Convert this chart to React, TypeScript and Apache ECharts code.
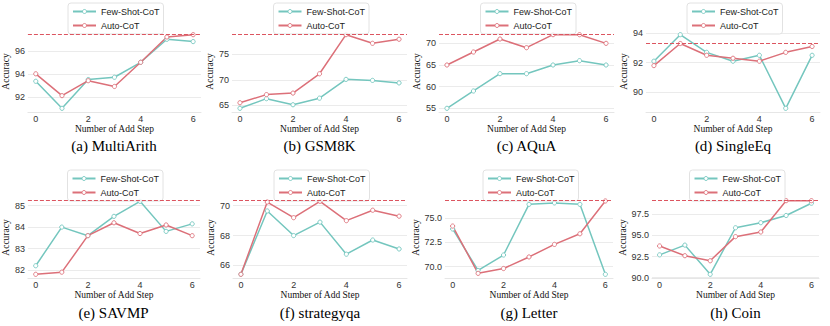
import React, { useEffect, useRef } from "react";
import * as echarts from "echarts";

// ---------- data ----------
const steps = [0, 1, 2, 3, 4, 5, 6];
const xTickValues = [0, 2, 4, 6];
const seriesNames = ["Few-Shot-CoT", "Auto-CoT"];

const multiArithFew = [93.35, 91.0, 93.5, 93.7, 95.0, 97.0, 96.8];
const multiArithAuto = [94.0, 92.1, 93.4, 92.9, 95.0, 97.2, 97.4];
const multiArithRef = 97.4;
const multiArithTicks = [92, 94, 96];

const gsm8kFew = [64.4, 66.3, 65.1, 66.4, 70.1, 69.9, 69.4];
const gsm8kAuto = [65.5, 67.1, 67.4, 71.2, 78.9, 77.2, 78.0];
const gsm8kRef = 78.9;
const gsm8kTicks = [65, 70, 75];

const aquaFew = [55.0, 59.0, 63.0, 63.0, 65.0, 66.0, 65.0];
const aquaAuto = [65.0, 68.0, 71.0, 69.0, 72.0, 72.0, 70.0];
const aquaRef = 72.0;
const aquaTicks = [55, 60, 65, 70];

const singleEqFew = [92.1, 93.9, 92.7, 92.1, 92.5, 88.9, 92.5];
const singleEqAuto = [91.8, 93.3, 92.5, 92.3, 92.1, 92.7, 93.1];
const singleEqRef = 93.3;
const singleEqTicks = [90, 92, 94];

const svampFew = [82.2, 84.0, 83.6, 84.5, 85.2, 83.8, 84.15];
const svampAuto = [81.8, 81.9, 83.6, 84.2, 83.7, 84.1, 83.6];
const svampRef = 85.23;
const svampTicks = [82, 83, 84, 85];

const strategyFew = [65.4, 69.65, 68.0, 68.9, 66.75, 67.7, 67.1];
const strategyAuto = [65.4, 70.25, 69.2, 70.3, 69.0, 69.7, 69.3];
const strategyRef = 70.34;
const strategyTicks = [66, 68, 70];

const letterFew = [73.9, 69.6, 71.2, 76.45, 76.6, 76.45, 69.2];
const letterAuto = [74.2, 69.3, 69.8, 71.0, 72.3, 73.4, 76.8];
const letterRef = 76.83;
const letterTicks = [70.0, 72.5, 75.0];

const coinFew = [92.7, 93.85, 90.4, 95.9, 96.5, 97.35, 98.8];
const coinAuto = [93.75, 92.6, 92.0, 94.85, 95.4, 99.1, 99.1];
const coinRef = 99.1;
const coinTicks = [90.0, 92.5, 95.0, 97.5];

const captions = [
  "(a) MultiArith",
  "(b) GSM8K",
  "(c) AQuA",
  "(d) SingleEq",
  "(e) SAVMP",
  "(f) strategyqa",
  "(g) Letter",
  "(h) Coin",
];

const panels = [
  { few: multiArithFew, auto: multiArithAuto, ref: multiArithRef, ticks: multiArithTicks, dec: 0 },
  { few: gsm8kFew, auto: gsm8kAuto, ref: gsm8kRef, ticks: gsm8kTicks, dec: 0 },
  { few: aquaFew, auto: aquaAuto, ref: aquaRef, ticks: aquaTicks, dec: 0 },
  { few: singleEqFew, auto: singleEqAuto, ref: singleEqRef, ticks: singleEqTicks, dec: 0 },
  { few: svampFew, auto: svampAuto, ref: svampRef, ticks: svampTicks, dec: 0 },
  { few: strategyFew, auto: strategyAuto, ref: strategyRef, ticks: strategyTicks, dec: 0 },
  { few: letterFew, auto: letterAuto, ref: letterRef, ticks: letterTicks, dec: 1 },
  { few: coinFew, auto: coinAuto, ref: coinRef, ticks: coinTicks, dec: 1 },
];

// ---------- layout ----------
const gridLefts = [27, 232, 439, 646, 27, 233, 445, 652];
const gridRights = [201, 407, 614, 820, 200, 407, 613, 819];
const rowTops = [31, 197];
const gridHeight = 81;
const legendTops = [3, 170];
const captionYs = [146, 313];
const yNameGaps = [13, 13, 13, 13, 13, 13, 19, 19];

const TEAL = "#74c6be";
const RED = "#dc7079";
const DASH = "#dc5560";
const SANS = "Liberation Sans";
const SERIF = "Liberation Serif";

function buildOption() {
  const grid: any[] = [];
  const xAxis: any[] = [];
  const yAxis: any[] = [];
  const series: any[] = [];
  const legend: any[] = [];
  const graphic: any[] = [];

  panels.forEach((p, i) => {
    const row = i < 4 ? 0 : 1;
    const left = gridLefts[i];
    const width = gridRights[i] - gridLefts[i];
    const cx = left + width / 2;
    grid.push({ left, top: rowTops[row], width, height: gridHeight });

    const all = [...p.few, ...p.auto, p.ref];
    const lo = Math.min(...all);
    const hi = Math.max(...all);
    const pad = (hi - lo) * 0.05;

    xAxis.push({
      type: "value",
      gridIndex: i,
      min: -0.3,
      max: 6.3,
      axisLine: { show: true, lineStyle: { color: "#e6e6e6", width: 1 } },
      axisTick: { show: false, customValues: xTickValues },
      splitLine: { show: false },
      axisLabel: {
        customValues: xTickValues,
        fontSize: 9,
        fontFamily: SANS,
        color: "#333",
        margin: 2,
      },
      name: "Number of Add Step",
      nameLocation: "middle",
      nameGap: 10,
      nameTextStyle: { fontFamily: SERIF, fontSize: 9.5, color: "#111" },
    });

    yAxis.push({
      type: "value",
      gridIndex: i,
      min: lo - pad,
      max: hi + pad,
      axisLine: { show: false },
      axisTick: { show: false, customValues: p.ticks },
      splitLine: { show: true, lineStyle: { color: "#ebebeb", width: 1 } },
      axisLabel: {
        customValues: p.ticks,
        fontSize: 9,
        fontFamily: SANS,
        color: "#333",
        margin: 3,
        formatter: (v: number) => v.toFixed(p.dec),
      },
      name: "Accuracy",
      nameLocation: "middle",
      nameGap: yNameGaps[i],
      nameTextStyle: { fontFamily: SERIF, fontSize: 9.5, color: "#111" },
    });

    const mk = (name: string, vals: number[], color: string, extra: any = {}) => ({
      type: "line",
      name,
      xAxisIndex: i,
      yAxisIndex: i,
      data: steps.map((s, j) => [s, vals[j]]),
      color,
      symbol: "circle",
      symbolSize: 4.2,
      showSymbol: true,
      lineStyle: { color, width: 1.5 },
      itemStyle: { color: "#fff", borderColor: color, borderWidth: 0.9 },
      emphasis: { disabled: true },
      ...extra,
    });

    series.push(mk(seriesNames[0], p.few, TEAL));
    series.push(
      mk(seriesNames[1], p.auto, RED, {
        markLine: {
          silent: true,
          symbol: "none",
          label: { show: false },
          lineStyle: { color: DASH, type: [4, 2], width: 1.2 },
          data: [{ yAxis: p.ref }],
        },
      })
    );

    legend.push({
      orient: "vertical",
      left: cx - 46,
      top: legendTops[row],
      data: seriesNames,
      itemWidth: 23,
      itemHeight: 5,
      itemGap: 3,
      padding: [3, 4, 3, 4],
      borderColor: "#dadada",
      borderWidth: 0.8,
      borderRadius: 3,
      backgroundColor: "rgba(255,255,255,0.85)",
      itemStyle: { color: "#fff", borderWidth: 0.9 },
      textStyle: { fontFamily: SANS, fontSize: 9, color: "#222", lineHeight: 11 },
    });

    graphic.push({
      type: "text",
      x: cx,
      y: captionYs[row],
      style: {
        text: captions[i],
        fontFamily: SERIF,
        fontSize: 15,
        fill: "#000",
        align: "center",
        verticalAlign: "middle",
      },
    });
  });

  return { animation: false, grid, xAxis, yAxis, series, legend, graphic };
}

export default function App() {
  const ref = useRef<HTMLDivElement>(null);
  useEffect(() => {
    document.body.style.margin = "0";
    if (!ref.current) return;
    const chart = echarts.init(ref.current, undefined, { renderer: "svg" });
    chart.setOption(buildOption() as any);
    return () => chart.dispose();
  }, []);
  return <div ref={ref} style={{ width: 830, height: 326, background: "#fff" }} />;
}
